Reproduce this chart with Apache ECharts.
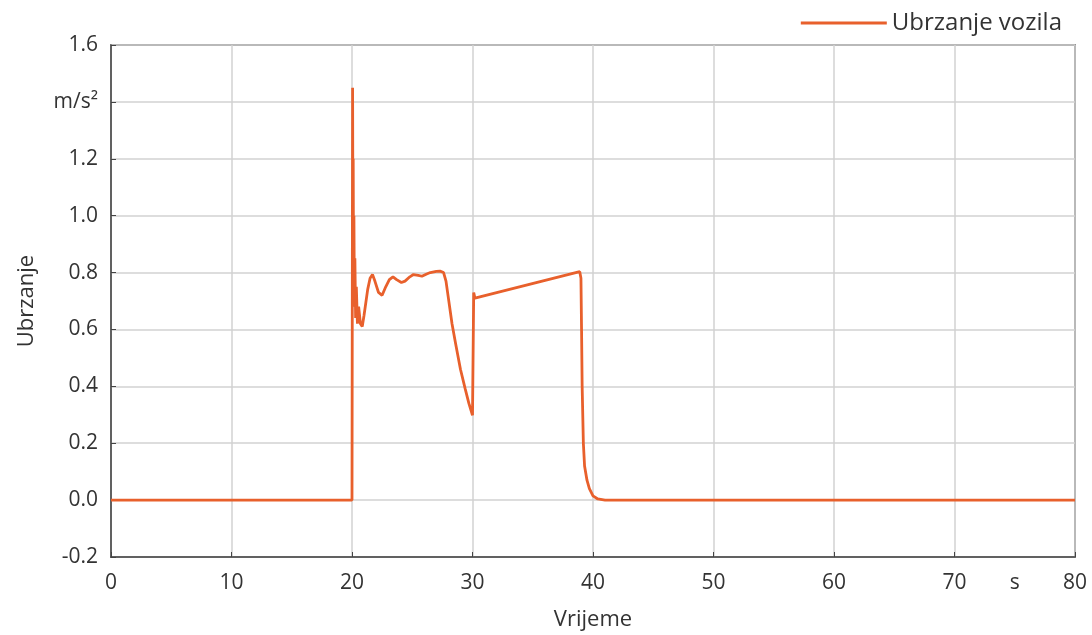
<!DOCTYPE html>
<html lang="hr">
<head>
    <meta charset="utf-8">
    <title>Ubrzanje vozila</title>
    <script src="https://cdn.jsdelivr.net/npm/echarts@6/dist/echarts.min.js"></script>
    <style>
        html, body { margin: 0; padding: 0; background: #fff; }
        #chart { width: 1092px; height: 635px; }
    </style>
</head>
<body>
    <div id="chart"></div>
    <script>
        // vrijeme (s) i ubrzanje (m/s2), ocitano sa slike
        const vrijeme = [0, 20.0, 20.05, 20.08, 20.1, 20.13, 20.16, 20.2, 20.24, 20.3, 20.36, 20.45, 20.55, 20.7, 20.85,
            21.0, 21.3, 21.5, 21.7, 21.9, 22.2, 22.5, 22.8, 23.1, 23.4, 23.7, 24.1, 24.4, 24.8, 25.1, 25.5, 25.8,
            26.2, 26.5, 27.0, 27.3, 27.6, 27.8, 28.0, 28.3, 28.6, 29.0, 29.4, 29.7,
            30.0, 30.1, 30.2, 30.35, 38.9, 39.0, 39.05, 39.1, 39.2, 39.3, 39.5, 39.7, 40.0, 40.4, 41.0, 80];
        const ubrzanje = [0, 0, 1.45, 0.9, 1.2, 0.75, 1.0, 0.68, 0.85, 0.64, 0.75, 0.62, 0.68, 0.62, 0.61,
            0.65, 0.74, 0.78, 0.793, 0.77, 0.73, 0.72, 0.75, 0.775, 0.785, 0.775, 0.765, 0.77, 0.785, 0.793, 0.79, 0.787,
            0.795, 0.80, 0.804, 0.805, 0.80, 0.77, 0.71, 0.62, 0.55, 0.46, 0.39, 0.34,
            0.298, 0.73, 0.71, 0.715, 0.803, 0.78, 0.6, 0.4, 0.2, 0.12, 0.07, 0.04, 0.015, 0.004, 0, 0];

        const imeSerije = 'Ubrzanje vozila';
        const jedinicaY = 'm/s²';
        const jedinicaX = 's';

        const chart = echarts.init(document.getElementById('chart'));
        const font = 'Open Sans';
        const boja = '#e8602c';

        chart.setOption({
            animation: false,
            textStyle: { fontFamily: font },
            legend: {
                data: [{ name: imeSerije, icon: 'rect' }],
                top: 6,
                right: 25,
                itemWidth: 86,
                itemHeight: 3,
                itemGap: 14,
                textStyle: { fontSize: 24, color: '#333', fontFamily: font }
            },
            grid: {
                left: 111, right: 17, top: 45, bottom: 78,
                outerBoundsMode: 'none',
                show: true, borderColor: '#444', borderWidth: 1.5
            },
            xAxis: [{
                type: 'value',
                min: 0, max: 80, interval: 10,
                name: 'Vrijeme',
                nameLocation: 'middle',
                nameGap: 52,
                nameTextStyle: { fontSize: 22, color: '#333' },
                axisLine: { show: true, onZero: false, lineStyle: { color: '#444', width: 1.5 } },
                axisTick: { show: true, inside: true, length: 5, lineStyle: { color: '#444' } },
                axisLabel: { fontSize: 21, color: '#333', margin: 16 },
                splitLine: { show: true, lineStyle: { color: '#d2d2d2', width: 1.5 } }
            }, {
                type: 'value',
                position: 'bottom',
                min: 0, max: 80, interval: 5,
                axisLine: { show: false, onZero: false },
                axisTick: { show: false },
                splitLine: { show: false },
                axisLabel: {
                    fontSize: 21, color: '#333', margin: 16,
                    formatter: v => (v === 75 ? jedinicaX : '')
                }
            }],
            yAxis: {
                type: 'value',
                min: -0.2, max: 1.6, interval: 0.2,
                name: 'Ubrzanje',
                nameLocation: 'middle',
                nameGap: 73,
                nameTextStyle: { fontSize: 22, color: '#333' },
                axisLine: { show: true, lineStyle: { color: '#444', width: 1.5 } },
                axisTick: { show: true, inside: true, length: 5, lineStyle: { color: '#444' } },
                axisLabel: {
                    fontSize: 21, color: '#333', margin: 13,
                    formatter: v => (Math.abs(v - 1.4) < 1e-6 ? jedinicaY : v.toFixed(1))
                },
                splitLine: { show: true, lineStyle: { color: '#d2d2d2', width: 1.5 } }
            },
            series: [{
                name: imeSerije,
                type: 'line',
                xAxisIndex: 0,
                symbol: 'none',
                data: vrijeme.map((t, i) => [t, ubrzanje[i]]),
                lineStyle: { color: boja, width: 2.8 },
                itemStyle: { color: boja }
            }]
        });
    </script>
</body>
</html>
